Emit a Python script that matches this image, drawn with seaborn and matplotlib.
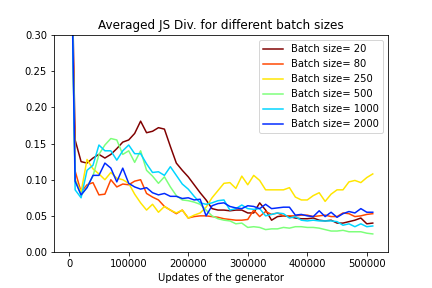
import numpy as np
import pandas as pd
import matplotlib
matplotlib.use("Agg")
import matplotlib.pyplot as plt
import seaborn as sns

updates = np.arange(0, 520000, 10000)
batch_sizes = [20, 80, 250, 500, 1000, 2000]

js_20 = [0.6, 0.155, 0.125, 0.123, 0.13, 0.135, 0.13, 0.135, 0.143, 0.152, 0.155, 0.164, 0.181,
         0.165, 0.167, 0.172, 0.17, 0.146, 0.123, 0.113, 0.104, 0.093, 0.082, 0.072, 0.06, 0.058,
         0.058, 0.057, 0.058, 0.058, 0.054, 0.054, 0.068, 0.058, 0.044, 0.049, 0.05, 0.049, 0.047,
         0.046, 0.046, 0.047, 0.044, 0.043, 0.044, 0.04, 0.04, 0.042, 0.044, 0.047, 0.039, 0.04]
js_80 = [0.6, 0.112, 0.083, 0.093, 0.096, 0.079, 0.08, 0.1, 0.09, 0.094, 0.093, 0.098, 0.1,
         0.081, 0.076, 0.072, 0.063, 0.058, 0.053, 0.058, 0.047, 0.049, 0.05, 0.05, 0.049, 0.048,
         0.046, 0.045, 0.044, 0.044, 0.045, 0.058, 0.049, 0.056, 0.052, 0.054, 0.05, 0.05, 0.05,
         0.051, 0.051, 0.049, 0.05, 0.051, 0.049, 0.049, 0.054, 0.053, 0.049, 0.05, 0.052, 0.053]
js_250 = [0.6, 0.1, 0.083, 0.128, 0.115, 0.108, 0.1, 0.11, 0.102, 0.1, 0.095, 0.08, 0.068,
          0.058, 0.066, 0.055, 0.063, 0.058, 0.054, 0.058, 0.047, 0.051, 0.054, 0.062, 0.075, 0.085,
          0.095, 0.096, 0.088, 0.105, 0.093, 0.106, 0.099, 0.086, 0.086, 0.086, 0.086, 0.089, 0.076,
          0.072, 0.072, 0.078, 0.082, 0.07, 0.08, 0.086, 0.086, 0.097, 0.099, 0.096, 0.103, 0.108]
js_500 = [0.6, 0.1, 0.078, 0.09, 0.105, 0.135, 0.148, 0.157, 0.155, 0.135, 0.14, 0.124, 0.14,
          0.113, 0.105, 0.095, 0.104, 0.09, 0.078, 0.072, 0.071, 0.069, 0.066, 0.058, 0.05, 0.046,
          0.044, 0.043, 0.039, 0.04, 0.034, 0.035, 0.034, 0.031, 0.032, 0.032, 0.034, 0.033, 0.035,
          0.035, 0.034, 0.034, 0.033, 0.031, 0.029, 0.029, 0.03, 0.028, 0.028, 0.028, 0.026, 0.025]
js_1000 = [0.6, 0.086, 0.075, 0.113, 0.12, 0.148, 0.14, 0.14, 0.127, 0.14, 0.148, 0.136, 0.136,
           0.122, 0.11, 0.111, 0.106, 0.118, 0.106, 0.094, 0.087, 0.077, 0.068, 0.066, 0.068, 0.071,
           0.072, 0.058, 0.06, 0.065, 0.06, 0.059, 0.06, 0.05, 0.052, 0.054, 0.053, 0.047, 0.049,
           0.044, 0.043, 0.044, 0.043, 0.043, 0.043, 0.042, 0.037, 0.039, 0.035, 0.039, 0.035, 0.036]
js_2000 = [0.6, 0.098, 0.079, 0.089, 0.106, 0.106, 0.123, 0.116, 0.097, 0.116, 0.095, 0.09, 0.087,
           0.089, 0.082, 0.079, 0.081, 0.077, 0.077, 0.074, 0.075, 0.072, 0.073, 0.05, 0.064, 0.067,
           0.068, 0.063, 0.061, 0.06, 0.064, 0.063, 0.06, 0.066, 0.06, 0.061, 0.062, 0.062, 0.051,
           0.052, 0.05, 0.049, 0.057, 0.049, 0.055, 0.048, 0.053, 0.056, 0.054, 0.06, 0.055, 0.055]

series = [js_20, js_80, js_250, js_500, js_1000, js_2000]

fig, ax = plt.subplots(figsize=(6, 4), dpi=72)
fig.subplots_adjust(left=0.125, right=0.898, top=0.878, bottom=0.125)

cmap = plt.get_cmap("jet")
colors = [cmap(v) for v in np.linspace(1.0, 1 / 6, 6)]

for bs, vals, col in zip(batch_sizes, series, colors):
    df = pd.DataFrame({"updates": updates, "js": vals})
    sns.lineplot(data=df, x="updates", y="js", color=col, label=f"Batch size= {bs}", ax=ax)

ax.set_ylim(0, 0.3)
ax.set_xticks([0, 100000, 200000, 300000, 400000, 500000])
ax.set_xlabel("Updates of the generator")
ax.set_ylabel("")
ax.set_title("Averaged JS Div. for different batch sizes")
ax.legend(loc="upper right")

fig.savefig("out.png", dpi=72)
